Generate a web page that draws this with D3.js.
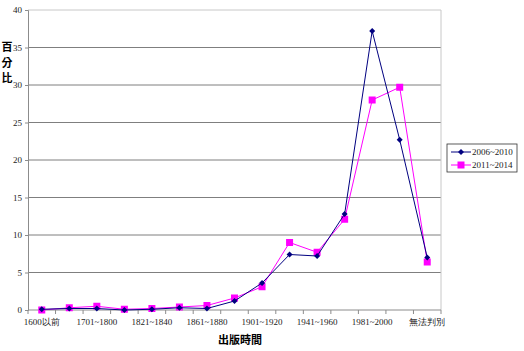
<!DOCTYPE html>
<html lang="zh-Hant">
<head>
<meta charset="UTF-8">
<title>出版時間</title>
<script src="https://cdn.jsdelivr.net/npm/d3@7/dist/d3.min.js"></script>
<style>
    body { margin: 0; background: #fff; }
    text { font-family: "Liberation Serif", "DejaVu Serif", serif; }
    .cjk { font-family: "Noto Sans CJK TC", "Noto Sans CJK SC", sans-serif; }
</style>
</head>
<body>
<script>
    // periods on the x axis (only every other one is labelled)
    const periods = ["1600以前", "1601~1700", "1701~1800", "1801~1820", "1821~1840", "1841~1860",
        "1861~1880", "1881~1900", "1901~1920", "1921~1940", "1941~1960", "1961~1980",
        "1981~2000", "2001~2014", "無法判別"]
    const seriesNames = ["2006~2010", "2011~2014"]
    const values2006 = [0.1, 0.2, 0.2, 0.0, 0.1, 0.3, 0.2, 1.2, 3.6, 7.4, 7.2, 12.8, 37.2, 22.7, 7.0]
    const values2011 = [0.0, 0.3, 0.5, 0.1, 0.2, 0.4, 0.6, 1.6, 3.1, 9.0, 7.7, 12.1, 28.0, 29.7, 6.4]
    const yTicks = [0, 5, 10, 15, 20, 25, 30, 35, 40]

    const width = 524, height = 351
    const margin = {top: 10, right: 83, bottom: 41, left: 28}
    const w = width - margin.left - margin.right,
        h = height - margin.top - margin.bottom

    const svg = d3.select("body").append("svg").attr("width", width).attr("height", height)
    const chart = svg.append("g").attr("transform", `translate(${[margin.left, margin.top]})`)

    const x = d3.scaleBand().domain(periods).range([0, w])
    const y = d3.scaleLinear().domain([0, 40]).range([h, 0])

    // gridlines
    chart.selectAll(".grid").data(yTicks.filter(d => d > 0 && d < 40))
        .join("line")
        .attr("x1", 0).attr("x2", w)
        .attr("y1", d => y(d)).attr("y2", d => y(d))
        .attr("stroke", "#7f7f7f").attr("stroke-width", 1)

    // frame: top/right light, left/bottom darker
    chart.append("line").attr("x1", 0).attr("x2", w).attr("y1", 0).attr("y2", 0)
        .attr("stroke", "#c8c8c8")
    chart.append("line").attr("x1", w).attr("x2", w).attr("y1", 0).attr("y2", h)
        .attr("stroke", "#c8c8c8")

    // y axis
    const yAxis = chart.append("g")
        .call(d3.axisLeft(y).tickValues(yTicks).tickSize(3).tickPadding(3))
    yAxis.select(".domain").attr("stroke", "#8c8c8c")
    yAxis.selectAll(".tick line").attr("stroke", "#8c8c8c")
    yAxis.selectAll("text").attr("font-size", 9).attr("fill", "#222")

    // x axis, ticks at category boundaries
    const xAxis = chart.append("g").attr("transform", `translate(0,${h})`)
    xAxis.append("line").attr("x1", 0).attr("x2", w).attr("stroke", "#8c8c8c")
    xAxis.selectAll(".xt").data(periods.concat(["end"]))
        .join("line")
        .attr("x1", (d, i) => i * x.step()).attr("x2", (d, i) => i * x.step())
        .attr("y1", 0).attr("y2", 4)
        .attr("stroke", "#8c8c8c")
    xAxis.selectAll(".xl").data(periods.filter((d, i) => i % 2 === 0))
        .join("text")
        .attr("x", d => x(d) + x.bandwidth() / 2)
        .attr("y", 15)
        .attr("text-anchor", "middle")
        .attr("font-size", 9)
        .attr("fill", "#222")
        .text(d => d)

    const line = d3.line().x((d, i) => x(periods[i]) + x.bandwidth() / 2).y(d => y(d))

    // 2011~2014 series
    chart.append("path").datum(values2011).attr("d", line)
        .attr("fill", "none").attr("stroke", "#ff00ff").attr("stroke-width", 1)
    chart.selectAll(".sq").data(values2011)
        .join("rect")
        .attr("x", (d, i) => x(periods[i]) + x.bandwidth() / 2 - 3.5)
        .attr("y", d => y(d) - 3.5)
        .attr("width", 7).attr("height", 7)
        .attr("fill", "#ff00ff")

    // 2006~2010 series
    chart.append("path").datum(values2006).attr("d", line)
        .attr("fill", "none").attr("stroke", "#000080").attr("stroke-width", 1)
    chart.selectAll(".dm").data(values2006)
        .join("path")
        .attr("transform", (d, i) => `translate(${x(periods[i]) + x.bandwidth() / 2},${y(d)})`)
        .attr("d", "M0,-3L3,0L0,3L-3,0Z")
        .attr("fill", "#000080")

    // axis titles
    svg.append("text").attr("class", "cjk")
        .attr("x", 240).attr("y", 344)
        .attr("text-anchor", "middle").attr("font-size", 11).attr("font-weight", "bold")
        .text("出版時間")
    svg.selectAll(".yt").data(["百", "分", "比"])
        .join("text").attr("class", "cjk")
        .attr("x", 7).attr("y", (d, i) => 51 + i * 15.5)
        .attr("text-anchor", "middle").attr("font-size", 11).attr("font-weight", "bold")
        .text(d => d)

    // legend
    const lg = svg.append("g").attr("transform", "translate(447,144)")
    lg.append("rect").attr("width", 70).attr("height", 28)
        .attr("fill", "#fff").attr("stroke", "#333").attr("stroke-width", 0.8)
    const items = lg.selectAll(".li").data(seriesNames).join("g")
        .attr("transform", (d, i) => `translate(0,${8 + i * 13})`)
    items.append("line").attr("x1", 4).attr("x2", 24)
        .attr("stroke", (d, i) => i ? "#ff00ff" : "#000080")
    items.filter((d, i) => i === 0).append("path")
        .attr("transform", "translate(14,0)").attr("d", "M0,-3L3,0L0,3L-3,0Z").attr("fill", "#000080")
    items.filter((d, i) => i === 1).append("rect")
        .attr("x", 10.5).attr("y", -3.5).attr("width", 7).attr("height", 7).attr("fill", "#ff00ff")
    items.append("text").attr("x", 25).attr("y", 3).attr("font-size", 9).attr("fill", "#222")
        .text(d => d)
</script>
</body>
</html>
